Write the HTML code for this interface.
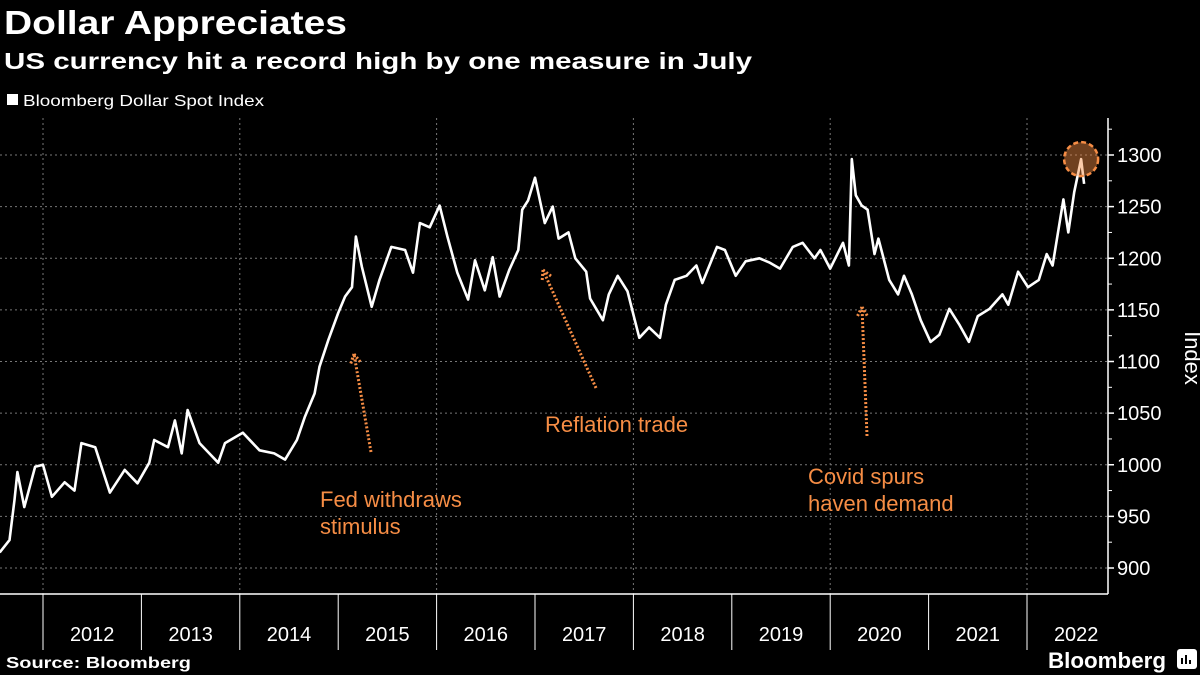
<!DOCTYPE html>
<html><head><meta charset="utf-8"><style>
html,body{margin:0;padding:0;background:#000;}
svg{display:block;font-family:"Liberation Sans",sans-serif;}
</style></head><body>
<svg id="chart" width="1200" height="675" viewBox="0 0 1200 675" xmlns="http://www.w3.org/2000/svg">
<rect width="1200" height="675" fill="#000"/>
<text x="4" y="34" fill="#fff" font-size="33" font-weight="bold" textLength="343" lengthAdjust="spacingAndGlyphs">Dollar Appreciates</text>
<text x="4" y="69" fill="#fff" font-size="23" font-weight="bold" textLength="748" lengthAdjust="spacingAndGlyphs">US currency hit a record high by one measure in July</text>
<rect x="7" y="94" width="11" height="11" fill="#fff"/>
<text x="23" y="106" fill="#fff" font-size="16" textLength="241" lengthAdjust="spacingAndGlyphs">Bloomberg Dollar Spot Index</text>
<g id="grid"></g>
<g id="axes"></g>
<path id="series" fill="none" stroke="#fff" stroke-width="2.6" stroke-linejoin="round"/>
<g id="annot"></g>
<text x="1185" y="358" fill="#fff" font-size="22" text-anchor="middle" transform="rotate(90 1185 358)">Index</text>
<text x="6" y="668" fill="#fff" font-size="16" font-weight="bold" textLength="185" lengthAdjust="spacingAndGlyphs">Source: Bloomberg</text>
<text x="1048" y="668" fill="#fff" font-size="22" font-weight="bold" textLength="118" lengthAdjust="spacingAndGlyphs">Bloomberg</text>
<rect x="1177" y="649" width="20" height="20" rx="3" fill="#fff"/>
<path d="M1182 664v-6M1186 664v-9M1190 664v-4" stroke="#000" stroke-width="2"/>
</svg>
<script>
const dates=[2011.56,2011.66,2011.71,2011.74,2011.81,2011.92,2012.00,2012.09,2012.22,2012.32,2012.39,2012.53,2012.68,2012.83,2012.96,2013.08,2013.13,2013.27,2013.34,2013.41,2013.47,2013.59,2013.69,2013.78,2013.85,2014.03,2014.20,2014.35,2014.46,2014.58,2014.66,2014.76,2014.81,2014.90,2015.00,2015.07,2015.14,2015.18,2015.24,2015.34,2015.42,2015.54,2015.68,2015.76,2015.83,2015.93,2016.03,2016.11,2016.21,2016.32,2016.39,2016.49,2016.57,2016.64,2016.74,2016.83,2016.87,2016.93,2017.00,2017.05,2017.10,2017.18,2017.24,2017.34,2017.41,2017.52,2017.56,2017.69,2017.75,2017.84,2017.94,2018.06,2018.16,2018.27,2018.33,2018.42,2018.54,2018.64,2018.70,2018.85,2018.93,2019.04,2019.14,2019.28,2019.38,2019.49,2019.62,2019.72,2019.84,2019.90,2020.00,2020.13,2020.19,2020.22,2020.26,2020.32,2020.38,2020.45,2020.49,2020.60,2020.69,2020.75,2020.83,2020.92,2021.02,2021.11,2021.21,2021.31,2021.41,2021.50,2021.62,2021.75,2021.81,2021.91,2022.01,2022.12,2022.20,2022.26,2022.37,2022.42,2022.48,2022.55,2022.58];
const values=[915,927,966,993,959,998,1000,969,983,975,1021,1017,973,995,982,1002,1024,1017,1043,1011,1053,1021,1011,1002,1021,1031,1014,1011,1005,1024,1046,1069,1095,1121,1147,1163,1172,1221,1192,1153,1179,1211,1208,1186,1234,1230,1251,1221,1186,1160,1198,1169,1201,1163,1189,1208,1247,1256,1278,1256,1234,1250,1219,1225,1200,1187,1161,1140,1165,1183,1168,1123,1133,1123,1155,1179,1183,1193,1176,1211,1208,1183,1197,1200,1196,1190,1211,1215,1200,1208,1190,1215,1193,1296,1261,1251,1247,1204,1219,1179,1165,1183,1165,1140,1119,1126,1151,1136,1119,1144,1151,1165,1155,1187,1172,1179,1204,1193,1257,1225,1264,1296,1272];
const yTicks=[900,950,1000,1050,1100,1150,1200,1250,1300];
const years=[2012,2013,2014,2015,2016,2017,2018,2019,2020,2021,2022];
const gridYears=[2012,2014,2016,2018,2020,2022];

const NS="http://www.w3.org/2000/svg";
const xOf=t=>43+(t-2012)*98.4;
const yOf=v=>155+(1300-v)*1.0325;
function mk(tag,attrs,parent,text){const e=document.createElementNS(NS,tag);for(const k in attrs)e.setAttribute(k,attrs[k]);if(text!==undefined)e.textContent=text;parent.appendChild(e);return e;}
const grid=document.getElementById('grid'),axes=document.getElementById('axes'),annot=document.getElementById('annot');
yTicks.forEach(v=>{
  const l=mk('line',{x1:0,x2:1108,y1:yOf(v),y2:yOf(v),stroke:'#777','stroke-width':1,'stroke-dasharray':'2,3'},grid);
  
  
  const tk=mk('line',{x1:1108,x2:1114,y1:yOf(v),y2:yOf(v),stroke:'#fff','stroke-width':1.5},axes);
  
  
  const t=mk('text',{x:1117,y:yOf(v)+7,fill:'#fff','font-size':20},axes,String(v));
  
  
  const mt=mk('line',{x1:1108,x2:1112,y1:yOf(v+25),y2:yOf(v+25),stroke:'#fff','stroke-width':1},axes);
  
  
});
gridYears.forEach(y=>{
  const l=mk('line',{x1:xOf(y),x2:xOf(y),y1:118,y2:594,stroke:'#777','stroke-width':1,'stroke-dasharray':'2,3'},grid);
  
  
});
const ya=mk('line',{x1:1108,x2:1108,y1:118,y2:594,stroke:'#fff','stroke-width':1.5},axes);


const xa=mk('line',{x1:0,x2:1108,y1:594,y2:594,stroke:'#fff','stroke-width':1.5},axes);


years.forEach(y=>{
  const s=mk('line',{x1:xOf(y),x2:xOf(y),y1:594,y2:650,stroke:'#fff','stroke-width':1},axes);
  
  
  const t=mk('text',{x:xOf(y+0.5),y:641,fill:'#fff','font-size':20,'text-anchor':'middle'},axes,String(y));
  
  
});
document.getElementById('series').setAttribute('d',dates.map((d,i)=>(i?'L':'M')+xOf(d).toFixed(1)+' '+yOf(values[i]).toFixed(1)).join(''));
// peak highlight circle
let pi=values.indexOf(Math.max(...values.slice(-5)),values.length-5);
const c=mk('circle',{cx:xOf(dates[pi]),cy:yOf(values[pi]),r:17,fill:'rgba(246,141,69,0.45)',stroke:'#f68d45','stroke-width':2.5,'stroke-dasharray':'5,3'},annot);


const OR='#f68d45';
function arrow(x1,y1,x2,y2,name){
  const g=mk('g',{},annot);
  
  
  mk('line',{x1,y1,x2,y2,stroke:OR,'stroke-width':3,'stroke-dasharray':'2,2'},g);
  const a=Math.atan2(y2-y1,x2-x1),L=10;
  [0.5,-0.5].forEach(d=>mk('line',{x1:x2,y1:y2,x2:x2-L*Math.cos(a+d),y2:y2-L*Math.sin(a+d),stroke:OR,'stroke-width':3,'stroke-dasharray':'2,2'},g));
}
arrow(371,452,354,354,'fed-arrow');
arrow(596,388,543,270,'reflation-arrow');
arrow(867,436,862,307,'covid-arrow');
function label(lines,x,y,name){
  lines.forEach((s,i)=>{const t=mk('text',{x,y:y+i*27,fill:OR,'font-size':22},annot,s);
  
  });
}
label(['Fed withdraws','stimulus'],320,507,'fed-label');
label(['Reflation trade'],545,432,'reflation-label');
label(['Covid spurs','haven demand'],808,484,'covid-label');
</script>
</body></html>
